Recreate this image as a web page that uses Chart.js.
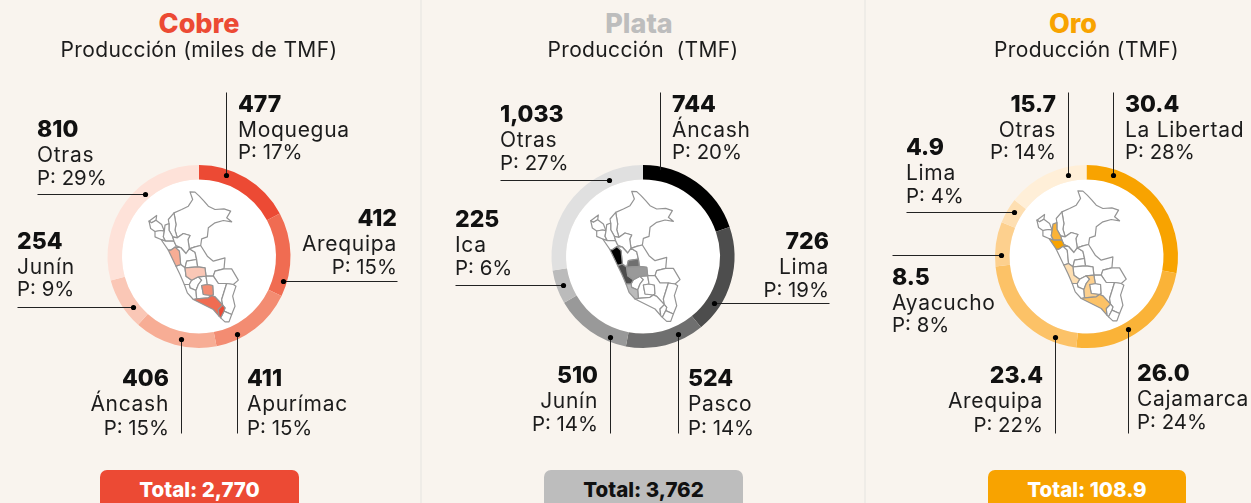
<!DOCTYPE html>
<html lang="es"><head><meta charset="utf-8">
<script src="https://cdn.jsdelivr.net/npm/chart.js@4"></script>
<style>
html,body{margin:0;padding:0;width:1251px;height:503px;overflow:hidden;background:#F9F4EE;font-family:Inter,"Open Sans",sans-serif;color:#1c1c1c}
canvas{position:absolute}
.sep{position:absolute;top:0;width:2px;height:503px;background:#EFECE7}
.t{position:absolute;white-space:nowrap;line-height:30px;height:30px}
.v{font-weight:800;font-size:23px;color:#111}
.l{font-weight:400;font-size:21px;letter-spacing:.7px;margin-top:1px}
.p{font-weight:400;font-size:20.4px}
.title{font-weight:800;font-size:27px;text-align:center;width:400px}
.sub{font-weight:400;font-size:21px;text-align:center;width:400px;letter-spacing:.36px}
.pill{position:absolute;top:470px;height:40px;border-radius:7px;text-align:center;font-weight:800;font-size:20.5px;line-height:40px}
</style></head><body>
<div class="sep" style="left:420px"></div><div class="sep" style="left:864px"></div>
<script>
const cobreRegions=["Moquegua","Arequipa","Apurímac","Áncash","Junín","Otras"];
const cobreValues=[477,412,411,406,254,810];
const cobreShares=[17,15,15,15,9,29];
const cobreColors=["#EC4A34","#F06C52","#F38C72","#F7AD95","#FAC7B6","#FEE2D9"];
const plataRegions=["Áncash","Lima","Pasco","Junín","Ica","Otras"];
const plataValues=[744,726,524,510,225,1033];
const plataShares=[20,19,14,14,6,27];
const plataColors=["#000000","#4D4D4D","#6F6F6F","#999999","#BBBBBB","#E0E0E0"];
const oroRegions=["La Libertad","Cajamarca","Arequipa","Ayacucho","Lima","Otras"];
const oroValues=[30.4,26.0,23.4,8.5,4.9,15.7];
const oroShares=[28,24,22,8,4,14];
const oroColors=["#F8A300","#FAB338","#FCC267","#FDD08E","#FEDFB2","#FFEFD8"];

// Department outlines of Peru, local map units
const peru={
Loreto:[270,97,285,98,298,110,312,125,325,140,345,150,372,148,392,155,380,175,395,187,370,183,345,190,325,205,322,232,305,238,302,258,285,262,268,268,264,240,270,228,250,222,232,235,225,212,228,195,222,160,245,150,265,140,278,120],
Tumbes:[147,185,170,168,168,182,155,190],
Piura:[147,185,155,190,168,182,185,195,193,215,182,213,165,216,152,207],
Lambayeque:[165,216,182,213,193,215,190,232,197,245,183,240,165,232],
Amazonas:[207,192,205,180,222,160,228,195,225,212,232,235,218,232,207,212],
Cajamarca:[195,197,207,192,207,212,218,232,222,245,197,245,190,232,193,215],
"La Libertad":[183,240,197,245,222,245,228,258,242,264,225,263,212,272,205,272],
"San Martín":[232,235,250,222,270,228,264,240,268,268,258,282,242,264,228,258,222,245,218,232],
Áncash:[205,272,212,272,225,263,238,275,242,315,228,320],
Huánuco:[238,275,225,263,242,264,258,282,268,268,285,278,290,300,260,305,255,325,242,315],
Pasco:[260,305,290,300,293,322,255,325],
Ucayali:[268,268,285,262,302,258,322,290,340,305,375,295,372,328,345,335,340,350,318,350,315,325,293,322,290,300,285,278],
Lima:[228,320,242,315,255,325,258,350,275,362,268,375,253,375,240,345],
Junín:[255,325,293,322,315,325,318,350,295,352,275,362,258,350],
"Madre de Dios":[340,350,345,335,372,328,395,328,415,362,400,375,380,372,355,372],
Huancavelica:[275,362,295,352,305,362,295,375,288,393,270,385,268,375],
Ica:[253,375,268,375,270,385,288,393,290,418,280,420,262,400],
Ayacucho:[295,352,318,350,322,375,305,378,310,405,335,408,325,415,290,418,288,393,295,375,305,362],
Apurímac:[305,378,322,375,338,378,340,405,335,408,310,405],
Cusco:[318,350,340,350,355,372,380,372,365,420,368,437,345,412,335,408,340,405,338,378,322,375],
Puno:[380,372,400,375,408,380,398,410,405,440,395,465,372,455,375,445,368,437,365,420],
Arequipa:[280,420,290,418,325,415,335,408,345,412,368,437,355,450,357,470,340,450],
Moquegua:[368,437,375,445,372,455,362,475,357,470,355,450],
Tacna:[372,455,395,465,387,487,375,487,362,475]
};
const mapCentre=[297,291];

function peruPlugin(fills,dots,shift){return{
 id:'peruAndLeaders',
 beforeDatasetsDraw(chart){
  const a=chart.getDatasetMeta(0).data[0],c=chart.ctx;
  c.save();c.fillStyle='#fff';c.beginPath();c.arc(a.x,a.y,a.innerRadius,0,Math.PI*2);c.fill();
  c.lineWidth=1.2;c.strokeStyle='#949494';c.lineJoin='round';
  const order=Object.keys(peru).sort((p,q)=>(fills[p]?1:0)-(fills[q]?1:0));
  for(const name of order){
   const pts=peru[name];c.beginPath();
   for(let i=0;i<pts.length;i+=2){
    const x=a.x+shift[0]+(pts[i]-mapCentre[0])/3,y=a.y+shift[1]+(pts[i+1]-mapCentre[1])/3;
    i?c.lineTo(x,y):c.moveTo(x,y);
   }
   c.closePath();c.fillStyle=fills[name]||'#fff';c.fill();c.stroke();
  }
  c.restore();
 },
 afterDatasetsDraw(chart){
  const c=chart.ctx,r=chart.canvas.getBoundingClientRect();
  c.save();c.strokeStyle='#222';c.fillStyle='#000';c.lineWidth=1;
  for(const [x,y,ex,ey] of dots){
   c.beginPath();c.moveTo(Math.round(x-r.left)+.5,Math.round(y-r.top)+.5);c.lineTo(Math.round(ex-r.left)+.5,Math.round(ey-r.top)+.5);c.stroke();
   c.beginPath();c.arc(x-r.left+.5,y-r.top+.5,2.6,0,Math.PI*2);c.fill();
  }
  c.restore();
 }
}}

function addChart(left,w,values,colors,fills,dots,shift){
 const cv=document.createElement('canvas');cv.width=w;cv.height=401;cv.style.left=left+'px';cv.style.top='56px';
 cv.style.width=w+'px';cv.style.height='401px';document.body.appendChild(cv);
 new Chart(cv,{type:'doughnut',
  data:{labels:values.map((_,i)=>i),datasets:[{data:values,backgroundColor:colors,borderWidth:0}]},
  options:{responsive:false,animation:false,radius:91.5,cutout:'84.15%',rotation:0,
   plugins:{legend:{display:false},tooltip:{enabled:false}}},
  plugins:[peruPlugin(fills,dots,shift)]});
}
function text(cls,str,x,y,align,extra){
 const d=document.createElement('div');d.className='t '+cls;d.textContent=str;d.style.top=(y-15)+'px';
 if(align==='r'){d.style.right=(1251-x)+'px';}else{d.style.left=x+'px';}
 if(extra)d.style.color=extra;document.body.appendChild(d);
}
function block(val,reg,share,pos){
 const [x,a,y1,y2,y3]=pos;
 text('v',val,x,y1,a);text('l',reg,x,y2,a);text('p','P: '+share+'%',x,y3,a);
}
function header(cx,tcx,title,color,sub,total,pillBg,pillFg,pl,pw){
 const t=document.createElement('div');t.className='t title';t.textContent=title;t.style.left=(tcx-200)+'px';t.style.top='9px';t.style.color=color;document.body.appendChild(t);
 const s=document.createElement('div');s.className='t sub';s.textContent=sub;s.style.left=(cx-200)+'px';s.style.top='35px';s.style.whiteSpace='pre';document.body.appendChild(s);
 const p=document.createElement('div');p.className='pill';p.textContent='Total: '+total;p.style.left=pl+'px';p.style.width=pw+'px';p.style.background=pillBg;p.style.color=pillFg;document.body.appendChild(p);
}
const cobreFmt=cobreValues.map(String);
const plataFmt=plataValues.map(v=>v.toLocaleString('en-US'));
const oroFmt=oroValues.map(v=>v.toFixed(1));

const cobreFills={Moquegua:cobreColors[0],Arequipa:cobreColors[1],Apurímac:cobreColors[2],Áncash:cobreColors[3],Junín:cobreColors[4]};
const plataFills={Áncash:plataColors[0],Lima:plataColors[1],Pasco:plataColors[2],Junín:plataColors[3],Ica:plataColors[4]};
const oroFills={"La Libertad":oroColors[0],Cajamarca:oroColors[1],Arequipa:oroColors[2],Ayacucho:oroColors[3],Lima:oroColors[4]};

addChart(-1,400,cobreValues,cobreColors,cobreFills,
 [[226,175,226,92],[283,281,397,281],[237,334,237,433],[181,339,181,433],[133,307,17,307],[145,194,37,194]],[0,0]);
addChart(443,400,plataValues,plataColors,plataFills,
 [[660,172,660,92],[714,303,829,303],[678,334,678,433],[610,337,610,433],[563,285,455,285],[609,180,500,180]],[-2.3,-0.5]);
addChart(886,401,oroValues,oroColors,oroFills,
 [[1068,175,1068,92],[1113,175,1113,92],[1128,329,1128,433],[1055,337,1055,433],[1001,255,892,255],[1014,212,906,212]],[0.4,-1]);

const cobrePos=[[238,'l',104,129,152],[397,'r',218,243,267],[247,'l',378,403,428],[169,'r',378,403,428],[17,'l',241,266,289],[37,'l',129,154,178]];
const plataPos=[[672,'l',104,129,152],[829,'r',241,266,290],[688,'l',378,403,428],[598,'r',375,400,424],[455,'l',219,244,268],[500,'l',114,139,163]];
const oroPos=[[1125,'l',104,129,152],[1137,'l',373,398,422],[1043,'r',375,400,425],[892,'l',277,302,325],[906,'l',147,172,196],[1056,'r',104,129,152]];
cobreFmt.forEach((v,i)=>block(v,cobreRegions[i],cobreShares[i],cobrePos[i]));
plataFmt.forEach((v,i)=>block(v,plataRegions[i],plataShares[i],plataPos[i]));
oroFmt.forEach((v,i)=>block(v,oroRegions[i],oroShares[i],oroPos[i]));

header(199,199,'Cobre','#EC4A34','Producción (miles de TMF)','2,770','#EC4A34','#fff',100,199);
header(643,639,'Plata','#BDBDBD','Producción  (TMF)','3,762','#BDBDBD','#111',544,199);
header(1086.5,1073,'Oro','#F8A300','Producción (TMF)','108.9','#F8A300','#fff',988,198);
</script>
</body></html>
